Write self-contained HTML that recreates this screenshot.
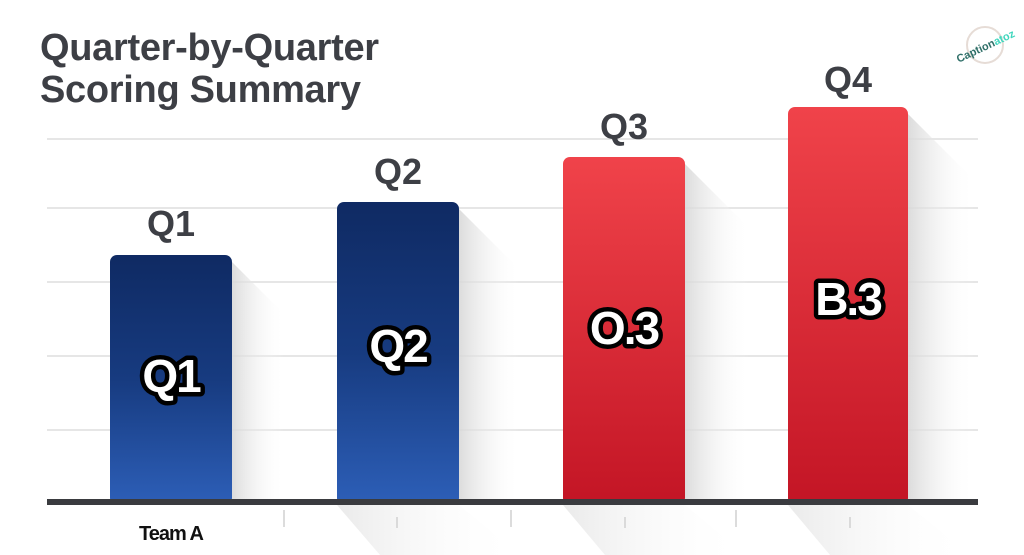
<!DOCTYPE html>
<html><head><style>
body{margin:0;background:#fff;}
svg{display:block;font-family:"Liberation Sans",sans-serif;}
</style></head><body>
<svg width="1024" height="555" viewBox="0 0 1024 555">
<defs>
<linearGradient id="blue" x1="0" y1="0" x2="0" y2="1"><stop offset="0" stop-color="#0f2a63"/><stop offset="0.5" stop-color="#173b80"/><stop offset="1" stop-color="#2d5fb8"/></linearGradient>
<linearGradient id="red" x1="0" y1="0" x2="0" y2="1"><stop offset="0" stop-color="#f0434a"/><stop offset="1" stop-color="#c31525"/></linearGradient>
<linearGradient id="sh" x1="0" y1="0" x2="1" y2="0"><stop offset="0" stop-color="#d8d8d8" stop-opacity="0.9"/><stop offset="1" stop-color="#fff" stop-opacity="0"/></linearGradient>
</defs>
<g stroke="#e6e6e6" stroke-width="2">
<line x1="47" y1="139" x2="978" y2="139"/><line x1="47" y1="208" x2="978" y2="208"/>
<line x1="47" y1="282" x2="978" y2="282"/><line x1="47" y1="356" x2="978" y2="356"/>
<line x1="47" y1="430" x2="978" y2="430"/>
</g>
<g fill="url(#sh)">
<polygon points="232,262 285,315 285,500 232,500"/>
<polygon points="459,209 520,270 520,500 459,500"/>
<polygon points="685,164 750,229 750,500 685,500"/>
<polygon points="908,114 975,181 975,500 908,500"/>
<polygon points="337,505 459,505 520,555 380,555" opacity="0.6"/>
<polygon points="563,505 685,505 745,555 605,555" opacity="0.6"/>
<polygon points="788,505 908,505 970,555 830,555" opacity="0.6"/>
</g>
<rect x="110" y="255" width="122" height="250" rx="7" fill="url(#blue)"/>
<rect x="337" y="202" width="122" height="303" rx="7" fill="url(#blue)"/>
<rect x="563" y="157" width="122" height="348" rx="7" fill="url(#red)"/>
<rect x="788" y="107" width="120" height="398" rx="7" fill="url(#red)"/>
<rect x="47" y="499" width="931" height="6" fill="#3a3b3f"/>
<g stroke="#d0d0d0" stroke-width="1.5">
<line x1="284" y1="510" x2="284" y2="527"/><line x1="397" y1="517" x2="397" y2="528"/>
<line x1="511" y1="510" x2="511" y2="527"/><line x1="625" y1="517" x2="625" y2="528"/>
<line x1="736" y1="510" x2="736" y2="527"/><line x1="850" y1="517" x2="850" y2="528"/>
</g>
<g font-weight="bold" fill="#3d3f45">
<text x="40" y="60" font-size="38" letter-spacing="-0.3">Quarter-by-Quarter</text>
<text x="40" y="102" font-size="38" letter-spacing="-0.3">Scoring Summary</text>
<g font-size="36" text-anchor="middle">
<text x="171" y="236">Q1</text><text x="398" y="184">Q2</text>
<text x="624" y="139">Q3</text><text x="848" y="92">Q4</text>
</g>
<text x="171" y="540" font-size="20" text-anchor="middle" fill="#111" letter-spacing="-1">Team A</text>
</g>
<g font-size="46" font-weight="bold" text-anchor="middle" fill="#fff" stroke="#000" stroke-width="9" paint-order="stroke" stroke-linejoin="round" letter-spacing="-2">
<text x="171" y="392">Q1</text><text x="398" y="362">Q2</text>
<text x="624" y="344">O.3</text><text x="848" y="315">B.3</text>
</g>
<circle cx="985" cy="45" r="18" fill="none" stroke="#e6dcd6" stroke-width="2"/>
<text x="985" y="50" font-size="11" font-weight="bold" text-anchor="middle" fill="#2f6f68" transform="rotate(-25 985 45)">Caption<tspan fill="#3fd6bd">atoz</tspan></text>
</svg>
</body></html>
